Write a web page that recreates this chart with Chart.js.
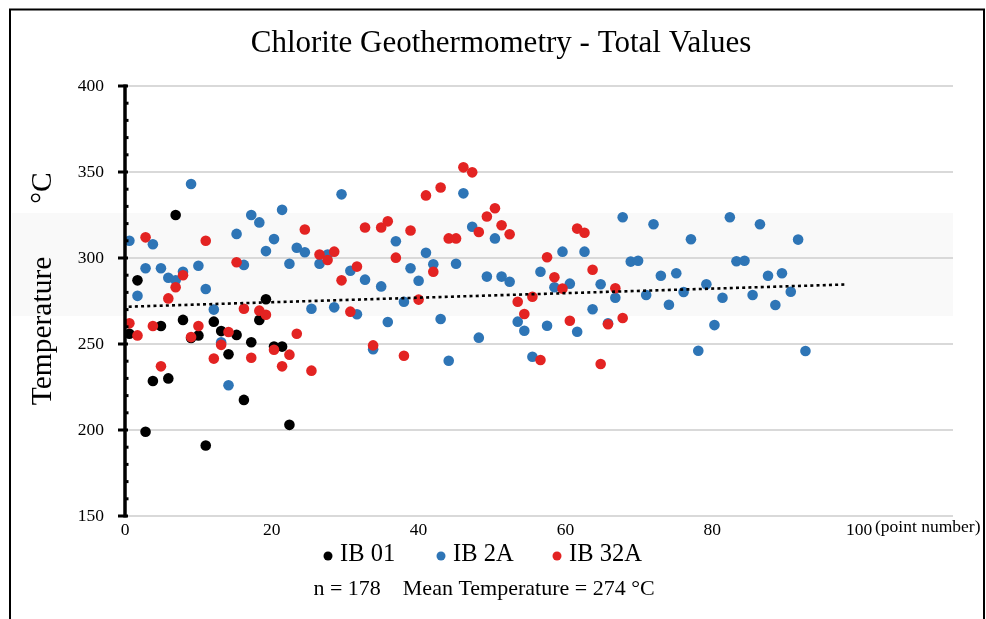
<!DOCTYPE html>
<html>
<head>
<meta charset="utf-8">
<script src="https://cdn.jsdelivr.net/npm/chart.js@4.4.1/dist/chart.umd.min.js"></script>
<style>
  html, body { margin: 0; padding: 0; background: #ffffff; }
  #wrap { width: 986px; height: 619px; position: relative; }
</style>
</head>
<body>
<div id="wrap"><canvas id="c" width="986" height="619"></canvas></div>
<script>
// ---- data ----
const pointNumber = [0.6,1.7,2.8,3.8,4.9,5.9,6.9,7.9,9.0,10.0,11.0,12.1,13.1,14.1,15.2,16.2,17.2,18.3,19.2,20.3,
  21.4,22.4,23.4,24.5,25.4,26.5,27.6,28.5,29.5,30.7,31.6,32.7,33.8,34.9,35.8,36.9,38.0,38.9,40.0,41.0,
  42.0,43.0,44.1,45.1,46.1,47.3,48.2,49.3,50.4,51.3,52.4,53.5,54.4,55.5,56.6,57.5,58.5,59.6,60.6,61.6,
  62.6,63.7,64.8,65.8,66.8,67.8,68.9,69.9,71.0,72.0,73.0,74.1,75.1,76.1,77.1,78.1,79.2,80.3,81.4,82.4,
  83.3,84.4,85.5,86.5,87.6,88.6,89.5,90.7,91.7,92.7];

const tempIB01 = [256,287,199,228.5,260.5,230,325,264,253.5,255,191,263,257.5,244,255.3,217.5,251,264,276,248.5,248.5,203];

const tempIB2A = [310,278,294,308,294,288.5,287,292,343,295.5,282,270,251,226,314,296,325,320.7,304,311,
  328,296.7,306,303.3,270.5,296.7,302,271.3,337,292.6,267.3,287.4,247,283.5,262.8,309.7,274.6,294,286.8,303,
  296.3,264.5,240.3,296.7,337.6,318.2,253.7,289.2,311.4,289.2,286.2,263,257.7,242.6,292,260.6,283,303.7,285.1,257.1,
  303.7,270.2,284.7,262,276.9,323.7,297.9,298.4,278.5,319.6,289.7,272.8,291.1,280.2,310.9,246.1,284.7,261,276.9,323.7,
  298.1,298.4,278.5,319.6,289.7,272.7,291.1,280.4,310.7,245.9];

const tempIB32A = [262,255,312,260.5,237,276.5,283,290,254,260.5,310,241.5,249.5,257,297.5,270.5,242,269.4,267,246.7,
  237,243.8,256,316.6,234.5,302,298.8,303.7,287,268.8,295,317.7,249.2,317.7,321.3,300.2,243.2,316,275.8,336.4,
  292,341,311.4,311.4,352.7,349.8,315.1,324.1,328.9,319,313.8,274.6,267.4,277.5,240.7,300.4,288.8,282.2,263.5,317.1,
  314.7,293.2,238.4,261.5,282.4,265.1];

const trendX = [0.5, 98.2];
const trendY = [271.7, 284.6];

const seriesNames = ['IB 01', 'IB 2A', 'IB 32A'];
const seriesColors = ['#000000', '#2e75b6', '#e32322'];
const bandRange = [266.3, 326.2];
const xTicks = [0, 20, 40, 60, 80, 100];
const yTicks = [150, 200, 250, 300, 350, 400];

const titleText = 'Chlorite Geothermometry - Total Values';
const yTitleText = 'Temperature';
const yUnitText = '°C';
const noteText = 'n = 178    Mean Temperature = 274 °C';
const xUnitText = '(point number)';

function toPoints(ys) { return ys.map((y, i) => ({ x: pointNumber[i], y: y })); }

const SERIF = '"Liberation Serif", "Times New Roman", serif';

const deco = {
  id: 'deco',
  beforeDraw(chart) {
    const ctx = chart.ctx;
    const y = chart.scales.y, ca = chart.chartArea;
    ctx.save();
    ctx.fillStyle = '#ffffff';
    ctx.fillRect(0, 0, chart.width, chart.height);
    const yT = y.getPixelForValue(bandRange[1]), yB = y.getPixelForValue(bandRange[0]);
    ctx.fillStyle = '#f9f9f9';
    ctx.fillRect(12, yT, ca.right - 12, yB - yT);
    ctx.restore();
  },
  afterDatasetsDraw(chart) {
    const ctx = chart.ctx;
    const y = chart.scales.y, ca = chart.chartArea;
    ctx.save();
    ctx.strokeStyle = '#000';
    ctx.lineWidth = 3.5;
    const ax = ca.left;
    ctx.beginPath();
    ctx.moveTo(ax, y.getPixelForValue(400) - 1.5);
    ctx.lineTo(ax, y.getPixelForValue(150) + 1.5);
    ctx.stroke();
    ctx.lineWidth = 3;
    yTicks.forEach(v => {
      const py = y.getPixelForValue(v);
      ctx.beginPath(); ctx.moveTo(ax - 7, py); ctx.lineTo(ax + 3, py); ctx.stroke();
    });
    for (let v = 160; v < 400; v += 10) {
      if (v % 50 === 0) continue;
      const py = y.getPixelForValue(v);
      ctx.beginPath(); ctx.moveTo(ax, py); ctx.lineTo(ax + 3.5, py); ctx.stroke();
    }
    ctx.restore();
  },
  afterDraw(chart) {
    const ctx = chart.ctx;
    const x = chart.scales.x;
    ctx.save();
    ctx.strokeStyle = '#000';
    ctx.lineWidth = 2;
    ctx.strokeRect(10, 9.5, 974, 700);
    ctx.fillStyle = '#000';
    ctx.font = '31px ' + SERIF;
    ctx.textAlign = 'center';
    ctx.textBaseline = 'middle';
    ctx.fillText(titleText, 501, 44);
    ctx.save();
    ctx.font = '29.5px ' + SERIF;
    ctx.translate(51, 0);
    ctx.rotate(-Math.PI / 2);
    ctx.textAlign = 'center';
    ctx.textBaseline = 'alphabetic';
    ctx.fillText(yTitleText, -331, 0);
    ctx.fillText(yUnitText, -188, 0);
    ctx.restore();
    ctx.font = '17.5px ' + SERIF;
    ctx.textAlign = 'left';
    ctx.textBaseline = 'middle';
    const x100 = x.getPixelForValue(100);
    ctx.fillText(xUnitText, x100 + 16, 527);
    const legItems = [
      { cx: 328, tx: 340 },
      { cx: 441, tx: 453 },
      { cx: 557, tx: 569 }
    ];
    ctx.font = '24.5px ' + SERIF;
    ctx.textBaseline = 'middle';
    legItems.forEach((it, i) => {
      ctx.fillStyle = seriesColors[i];
      ctx.beginPath(); ctx.arc(it.cx, 556, 4.5, 0, Math.PI * 2); ctx.fill();
      ctx.fillStyle = '#000';
      ctx.fillText(seriesNames[i], it.tx, 555);
    });
    ctx.font = '22px ' + SERIF;
    ctx.textAlign = 'center';
    ctx.fillText(noteText, 484, 589);
    ctx.restore();
  }
};

const ptStyle = (i) => ({
  backgroundColor: seriesColors[i],
  borderColor: seriesColors[i],
  pointRadius: 5.3,
  pointHoverRadius: 5.3,
  pointBorderWidth: 0,
  showLine: false
});

new Chart(document.getElementById('c'), {
  type: 'scatter',
  data: {
    datasets: [
      Object.assign({ label: seriesNames[0], data: toPoints(tempIB01), order: 3 }, ptStyle(0)),
      Object.assign({ label: seriesNames[1], data: toPoints(tempIB2A), order: 2 }, ptStyle(1)),
      Object.assign({ label: seriesNames[2], data: toPoints(tempIB32A), order: 1 }, ptStyle(2)),
      {
        label: 'trend',
        data: trendX.map((v, i) => ({ x: v, y: trendY[i] })),
        showLine: true,
        borderColor: '#000',
        borderWidth: 2.6,
        borderDash: [3, 3.2],
        pointRadius: 0,
        fill: false,
        order: 0
      }
    ]
  },
  options: {
    responsive: false,
    animation: false,
    devicePixelRatio: 1,
    layout: { padding: { left: 0, right: 33, top: 86, bottom: 73 } },
    plugins: { legend: { display: false }, title: { display: false }, tooltip: { enabled: false } },
    scales: {
      x: {
        type: 'linear',
        min: 0,
        max: 112.8,
        grid: { display: false, drawTicks: false },
        border: { display: false },
        ticks: {
          stepSize: 20,
          includeBounds: false,
          autoSkip: false,
          maxRotation: 0,
          padding: 4,
          color: '#000',
          font: { family: SERIF, size: 17.5 }
        },
        afterFit(s) { s.height = 30; }
      },
      y: {
        type: 'linear',
        min: 150,
        max: 400,
        grid: { color: '#d9d9d9', lineWidth: 2, drawTicks: false },
        border: { display: false },
        ticks: {
          stepSize: 50,
          padding: 21,
          color: '#000',
          font: { family: SERIF, size: 17.5 }
        },
        afterFit(s) { s.width = 125; }
      }
    }
  },
  plugins: [deco]
});
</script>
</body>
</html>
